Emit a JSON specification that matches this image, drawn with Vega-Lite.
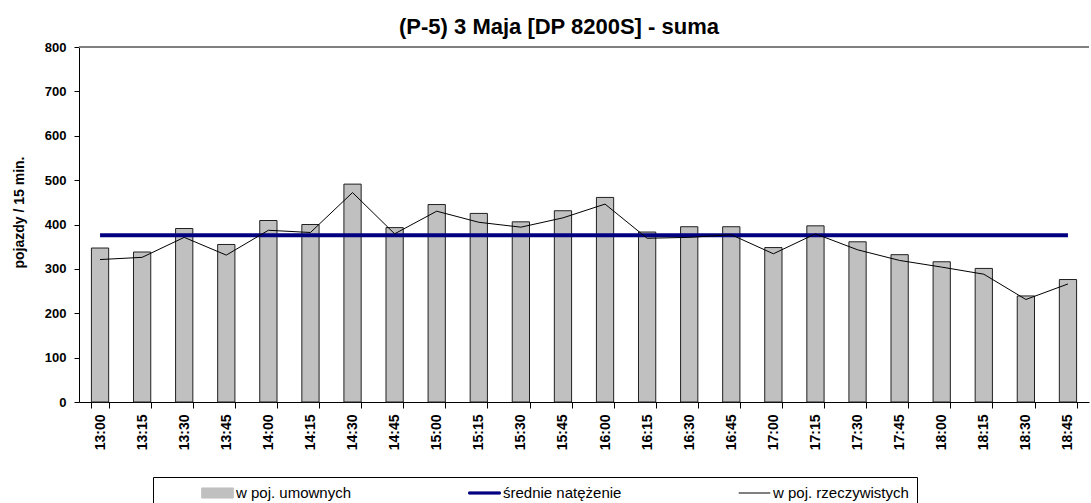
{
  "$schema": "https://vega.github.io/schema/vega-lite/v6.json",
  "width": 1010,
  "height": 355,
  "autosize": {"type": "none"},
  "padding": {"left": 79, "top": 47, "right": 2, "bottom": 101},
  "title": {"text": "(P-5) 3 Maja [DP 8200S] - suma", "font": "Liberation Sans", "fontSize": 22, "fontWeight": "bold", "color": "#000000", "anchor": "middle", "frame": "group", "dx": -25, "offset": 2},
  "config": {"view": {"stroke": null}, "font": "Liberation Sans",
    "legend": {"orient": "none", "legendX": 74, "legendY": 430, "direction": "horizontal", "columns": 3, "titleOrient": "left", "titleFontSize": 1, "titlePadding": 40, "strokeColor": "#000000", "padding": 8, "columnPadding": 116, "clipHeight": 16, "symbolSize": 1000, "symbolType": "stroke", "symbolStrokeWidth": 1, "labelFont": "Liberation Sans", "labelFontSize": 15, "labelColor": "#000000", "labelOffset": 2}},
  "data": {"values": [
    {"t": "13:00", "u": 347, "r": 321, "s": 376},
    {"t": "13:15", "u": 338, "r": 326, "s": 376},
    {"t": "13:30", "u": 391, "r": 371, "s": 376},
    {"t": "13:45", "u": 355, "r": 331, "s": 376},
    {"t": "14:00", "u": 409, "r": 387, "s": 376},
    {"t": "14:15", "u": 400, "r": 382, "s": 376},
    {"t": "14:30", "u": 491, "r": 472, "s": 376},
    {"t": "14:45", "u": 393, "r": 379, "s": 376},
    {"t": "15:00", "u": 445, "r": 430, "s": 376},
    {"t": "15:15", "u": 425, "r": 405, "s": 376},
    {"t": "15:30", "u": 406, "r": 394, "s": 376},
    {"t": "15:45", "u": 431, "r": 415, "s": 376},
    {"t": "16:00", "u": 461, "r": 446, "s": 376},
    {"t": "16:15", "u": 383, "r": 369, "s": 376},
    {"t": "16:30", "u": 395, "r": 371, "s": 376},
    {"t": "16:45", "u": 395, "r": 377, "s": 376},
    {"t": "17:00", "u": 348, "r": 334, "s": 376},
    {"t": "17:15", "u": 397, "r": 379, "s": 376},
    {"t": "17:30", "u": 361, "r": 343, "s": 376},
    {"t": "17:45", "u": 332, "r": 319, "s": 376},
    {"t": "18:00", "u": 316, "r": 304, "s": 376},
    {"t": "18:15", "u": 301, "r": 288, "s": 376},
    {"t": "18:30", "u": 239, "r": 231, "s": 376},
    {"t": "18:45", "u": 276, "r": 266, "s": 376}
  ]},
  "layer": [
    {
      "mark": {"type": "rule", "color": "#808080", "strokeWidth": 2},
      "encoding": {"y": {"datum": 800, "type": "quantitative"}}
    },
    {
      "mark": {"type": "bar", "stroke": "#202020", "strokeWidth": 1},
      "encoding": {
        "x": {"field": "t", "type": "ordinal", "sort": null, "title": null,
          "scale": {"paddingInner": 0.59, "paddingOuter": 0.295},
          "axis": {"labelAngle": -90, "labelFont": "Liberation Sans", "labelFontSize": 14, "labelFontWeight": "bold", "labelColor": "#000000", "labelPadding": 6, "labelBaseline": "middle", "tickBand": "extent", "tickSize": 6, "tickColor": "#000000", "domainColor": "#000000", "domainWidth": 1}},
        "y": {"field": "u", "type": "quantitative", "title": "pojazdy / 15 min.",
          "scale": {"domain": [0, 800], "nice": false},
          "axis": {"values": [0, 100, 200, 300, 400, 500, 600, 700, 800], "grid": false, "tickSize": 5, "tickColor": "#000000", "domainColor": "#000000", "labelFont": "Liberation Sans", "labelFontSize": 13, "labelFontWeight": "bold", "labelColor": "#000000", "labelPadding": 8, "titleFont": "Liberation Sans", "titleFontSize": 14, "titleFontWeight": "bold", "titleColor": "#000000", "titleX": -60, "titleY": 165, "titleAngle": -90, "titleAlign": "center", "titleBaseline": "middle"}},
        "color": {"datum": "w poj. umownych",
          "scale": {"domain": ["w poj. umownych", "średnie natężenie", "w poj. rzeczywistych"], "range": ["#c0c0c0", "#000080", "#000000"]},
          "legend": {"title": "\u00a0",
            "encode": {"symbols": {"update": {
              "shape": {"signal": "datum.value === 'w poj. umownych' ? 'M-1,-0.32H1V0.32H-1Z' : (datum.value === 'średnie natężenie' ? 'M-1,-0.07H1V0.07H-1Z' : 'stroke')"},
              "fill": {"signal": "datum.value === 'w poj. umownych' ? '#c0c0c0' : (datum.value === 'średnie natężenie' ? '#000080' : 'transparent')"},
              "stroke": {"signal": "datum.value === 'w poj. umownych' ? '#404040' : (datum.value === 'średnie natężenie' ? '#000080' : '#000000')"},
              "strokeWidth": {"value": 1},
              "opacity": {"value": 1}
            }}}}}
      }
    },
    {
      "mark": {"type": "line", "strokeWidth": 4},
      "encoding": {
        "x": {"field": "t", "type": "ordinal", "sort": null, "title": null},
        "y": {"field": "s", "type": "quantitative", "title": "pojazdy / 15 min."},
        "color": {"datum": "średnie natężenie",
          "legend": {"title": "\u00a0",
            "encode": {"symbols": {"update": {
              "shape": {"signal": "datum.value === 'w poj. umownych' ? 'M-1,-0.32H1V0.32H-1Z' : (datum.value === 'średnie natężenie' ? 'M-1,-0.07H1V0.07H-1Z' : 'stroke')"},
              "fill": {"signal": "datum.value === 'w poj. umownych' ? '#c0c0c0' : (datum.value === 'średnie natężenie' ? '#000080' : 'transparent')"},
              "stroke": {"signal": "datum.value === 'w poj. umownych' ? '#404040' : (datum.value === 'średnie natężenie' ? '#000080' : '#000000')"},
              "strokeWidth": {"value": 1},
              "opacity": {"value": 1}
            }}}}}
      }
    },
    {
      "mark": {"type": "line", "strokeWidth": 1},
      "encoding": {
        "x": {"field": "t", "type": "ordinal", "sort": null, "title": null},
        "y": {"field": "r", "type": "quantitative", "title": "pojazdy / 15 min."},
        "color": {"datum": "w poj. rzeczywistych",
          "legend": {"title": "\u00a0",
            "encode": {"symbols": {"update": {
              "shape": {"signal": "datum.value === 'w poj. umownych' ? 'M-1,-0.32H1V0.32H-1Z' : (datum.value === 'średnie natężenie' ? 'M-1,-0.07H1V0.07H-1Z' : 'stroke')"},
              "fill": {"signal": "datum.value === 'w poj. umownych' ? '#c0c0c0' : (datum.value === 'średnie natężenie' ? '#000080' : 'transparent')"},
              "stroke": {"signal": "datum.value === 'w poj. umownych' ? '#404040' : (datum.value === 'średnie natężenie' ? '#000080' : '#000000')"},
              "strokeWidth": {"value": 1},
              "opacity": {"value": 1}
            }}}}}
      }
    }
  ]
}
